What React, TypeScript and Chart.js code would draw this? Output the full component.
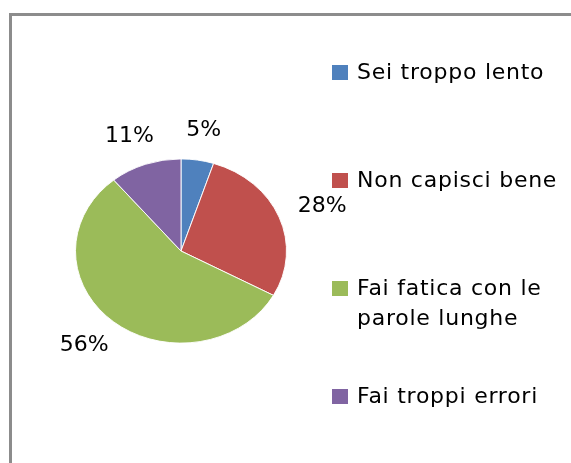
import React, { useEffect, useRef } from "react";
import { Chart, registerables } from "chart.js";

Chart.register(...registerables);

// ---- data ----
const categories = [
  "Sei troppo lento",
  "Non capisci bene",
  "Fai fatica con le parole lunghe",
  "Fai troppi errori",
];
const legendLines = [
  ["Sei troppo lento"],
  ["Non capisci bene"],
  ["Fai fatica con le", "parole lunghe"],
  ["Fai troppi errori"],
];
const values = [5, 28, 56, 11];
const colors = ["#4F81BD", "#C0504D", "#9BBB59", "#8064A2"];

// ---- style / layout constants ----
const W = 571;
const H = 463;
const Y_SQUASH = 0.873; // pie is drawn as an ellipse like the reference
const LABEL_PAD = 22;
const FONT = '"DejaVu Sans", sans-serif';

const ellipsePlugin = {
  id: "ellipsePie",
  beforeDatasetsDraw(chart: any) {
    const arc = chart.getDatasetMeta(0).data[0];
    if (!arc) return;
    const ctx = chart.ctx;
    ctx.save();
    ctx.translate(arc.x, arc.y);
    ctx.scale(1, Y_SQUASH);
    ctx.translate(-arc.x, -arc.y);
  },
  afterDatasetsDraw(chart: any) {
    const ctx = chart.ctx;
    ctx.restore();
    const meta = chart.getDatasetMeta(0);
    const data = chart.data.datasets[0].data as number[];
    const total = data.reduce((a, b) => a + b, 0);
    ctx.save();
    ctx.font = `22px ${FONT}`;
    ctx.fillStyle = "#000";
    ctx.textAlign = "center";
    ctx.textBaseline = "middle";
    meta.data.forEach((a: any, i: number) => {
      const { x, y, startAngle, endAngle, outerRadius } = a.getProps(
        ["x", "y", "startAngle", "endAngle", "outerRadius"],
        true
      );
      const m = (startAngle + endAngle) / 2;
      const text = `${Math.round((data[i] / total) * 100)}%`;
      const w = ctx.measureText(text).width;
      const h = 16;
      const lx = x + Math.cos(m) * (outerRadius + LABEL_PAD + w / 2);
      const ly = y + Math.sin(m) * (outerRadius * Y_SQUASH + LABEL_PAD + h / 2);
      ctx.fillText(text, lx, ly);
    });
    ctx.restore();
  },
};

export default function App() {
  const canvasRef = useRef<HTMLCanvasElement | null>(null);

  useEffect(() => {
    if (!canvasRef.current) return;
    const chart = new Chart(canvasRef.current, {
      type: "pie",
      data: {
        labels: categories,
        datasets: [
          {
            data: values,
            backgroundColor: colors,
            borderColor: "#ffffff",
            borderWidth: 1,
          },
        ],
      },
      options: {
        responsive: false,
        animation: false,
        events: [],
        layout: {
          padding: { left: 75, top: 145, right: 284, bottom: 106 },
        },
        plugins: {
          legend: { display: false },
          tooltip: { enabled: false },
          title: { display: false },
        },
      },
      plugins: [ellipsePlugin],
    });
    return () => chart.destroy();
  }, []);

  return (
    <div
      style={{
        position: "fixed",
        left: 0,
        top: 0,
        width: W,
        height: H,
        overflow: "hidden",
        background: "#fff",
      }}
    >
      <div
        style={{
          position: "absolute",
          left: 9,
          top: 13,
          width: W,
          height: H,
          borderLeft: "3px solid #8c8c8c",
          borderTop: "3px solid #8c8c8c",
        }}
      />
      <canvas
        ref={canvasRef}
        width={W}
        height={H}
        style={{ position: "absolute", left: 0, top: 0, width: W, height: H }}
      />
      <div style={{ position: "absolute", left: 332, top: 57 }}>
        {legendLines.map((lines, i) => (
          <div key={i} style={{ display: "flex", alignItems: "flex-start", height: 108 }}>
            <div
              style={{
                width: 16,
                height: 15,
                marginTop: 8,
                marginRight: 9,
                background: colors[i],
                flex: "0 0 auto",
              }}
            />
            <div
              style={{
                fontFamily: FONT,
                fontSize: 22,
                lineHeight: "30px",
                letterSpacing: "0.75px",
                color: "#000",
                whiteSpace: "nowrap",
              }}
            >
              {lines.map((l, j) => (
                <div key={j}>{l}</div>
              ))}
            </div>
          </div>
        ))}
      </div>
    </div>
  );
}
